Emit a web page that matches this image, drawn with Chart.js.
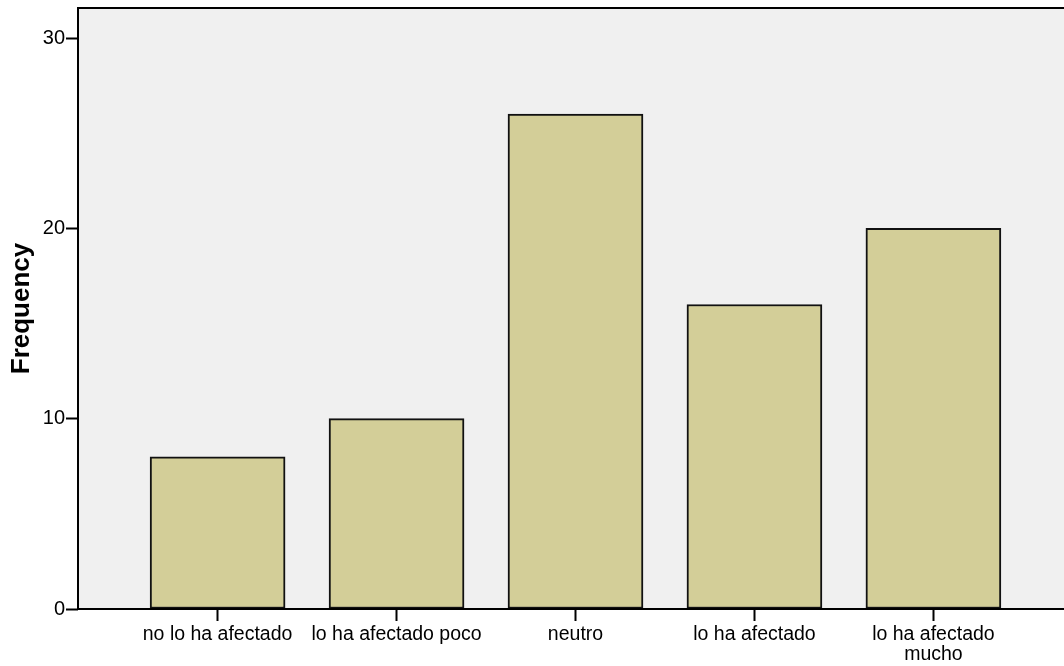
<!DOCTYPE html>
<html>
<head>
<meta charset="utf-8">
<script src="https://cdn.jsdelivr.net/npm/chart.js@4/dist/chart.umd.min.js"></script>
<style>
html,body{margin:0;padding:0;background:#fff;overflow:hidden;width:1064px;height:666px;}
#wrap{width:1080px;height:666px;}
</style>
</head>
<body>
<div id="wrap"><canvas id="c" width="1080" height="666"></canvas></div>
<script>
const categories = ['no lo ha afectado', 'lo ha afectado poco', 'neutro', 'lo ha afectado', 'lo ha afectado mucho'];
const frequencies = [8, 10, 26, 16, 20];
const yTicks = [0, 10, 20, 30];
const yTitle = 'Frequency';

const FONT = "'Liberation Sans', Arial, sans-serif";

const framePlugin = {
  id: 'frame',
  beforeDatasetsDraw(chart) {
    const a = chart.chartArea, ctx = chart.ctx;
    ctx.save();
    ctx.fillStyle = '#f0f0f0';
    ctx.fillRect(a.left, a.top, a.right - a.left, a.bottom - a.top);
    ctx.restore();
  },
  afterDatasetsDraw(chart) {
    const a = chart.ctx, c = chart.chartArea;
    a.save();
    a.strokeStyle = '#000';
    a.lineWidth = 2;
    a.strokeRect(c.left, c.top, c.right - c.left, c.bottom - c.top);
    a.restore();
  }
};

function wrapLabel(s) {
  if (s === 'lo ha afectado mucho') return ['lo ha afectado', 'mucho'];
  return s;
}

new Chart(document.getElementById('c'), {
  type: 'bar',
  data: {
    datasets: [{
      data: frequencies.map((v, i) => ({ x: i, y: v })),
      backgroundColor: '#d3ce98',
      borderColor: '#111',
      borderWidth: 2,
      barThickness: 135,
      borderSkipped: false
    }]
  },
  plugins: [framePlugin],
  options: {
    responsive: false,
    devicePixelRatio: 1,
    animation: false,
    layout: { padding: { top: 8, right: 7, left: 0, bottom: 0 } },
    plugins: { legend: { display: false }, tooltip: { enabled: false } },
    scales: {
      x: {
        type: 'linear',
        min: -0.78,
        max: 4.78,
        offset: false,
        afterBuildTicks: s => { s.ticks = categories.map((_, i) => ({ value: i })); },
        afterFit: s => { s.height = 57; s.paddingLeft = 0; s.paddingRight = 0; },
        grid: { offset: false, drawOnChartArea: false, drawTicks: true, tickLength: 12, tickColor: '#000', tickWidth: 2 },
        border: { display: false },
        ticks: {
          autoSkip: false,
          maxRotation: 0,
          padding: 3,
          color: '#000',
          font: { family: FONT, size: 19.5, lineHeight: 1.05 },
          callback: (v) => wrapLabel(categories[v])
        }
      },
      y: {
        min: 0,
        max: 31.58,
        afterBuildTicks: s => { s.ticks = yTicks.map(v => ({ value: v })); },
        afterFit: s => { s.width = 78; s.paddingTop = 0; s.paddingBottom = 0; },
        grid: { drawOnChartArea: false, drawTicks: true, tickLength: 12, tickColor: '#000', tickWidth: 2 },
        border: { display: false },
        ticks: {
          padding: 1,
          color: '#000',
          font: { family: FONT, size: 20 }
        },
        title: {
          display: true,
          text: yTitle,
          color: '#000',
          font: { family: FONT, size: 26, weight: 'bold' },
          padding: { top: 6, bottom: 0 }
        }
      }
    }
  }
});
</script>
</body>
</html>
